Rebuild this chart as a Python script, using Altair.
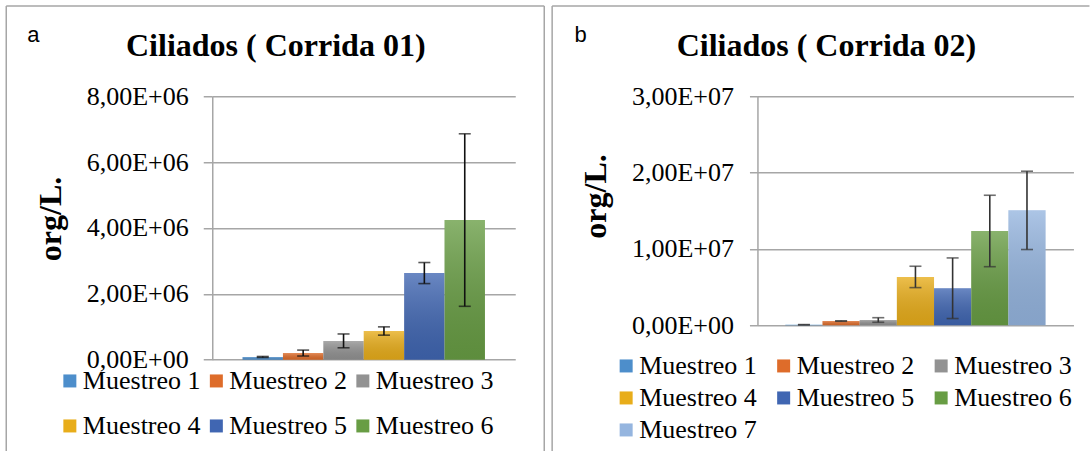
import altair as alt
import pandas as pd

# ---------------- data ----------------
series_a = ["Muestreo 1", "Muestreo 2", "Muestreo 3", "Muestreo 4", "Muestreo 5", "Muestreo 6"]
means_a = [8.2e4, 2.0e5, 5.7e5, 8.7e5, 2.63e6, 4.24e6]
errs_a = [1.5e4, 9.0e4, 2.1e5, 1.26e5, 3.2e5, 2.62e6]

series_b = ["Muestreo 1", "Muestreo 2", "Muestreo 3", "Muestreo 4", "Muestreo 5", "Muestreo 6", "Muestreo 7"]
means_b = [7.0e4, 5.5e5, 6.9e5, 6.33e6, 4.85e6, 1.235e7, 1.505e7]
errs_b = [2.0e4, 3.0e4, 3.0e5, 1.4e6, 3.97e6, 4.68e6, 5.13e6]

colors = ["#4d8ecb", "#de6c2a", "#929292", "#e8ad1a", "#4066b2", "#689d44", "#95b5df"]

titles = ["Ciliados ( Corrida 01)", "Ciliados ( Corrida 02)"]
letters = ["a", "b"]
y_title = "org/L."
ticks_a = [0, 2e6, 4e6, 6e6, 8e6]
ticks_b = [0, 1e7, 2e7, 3e7]

GRID = "#a6a6a6"
SERIF = "Liberation Serif"
LABEL_EXPR = "replace(replace(format(datum.value, '.2e'), '.', ','), 'e+', 'E+0')"


def panel(series, means, errs, ticks, g):
    df = pd.DataFrame({"serie": series, "valor": means, "err": errs})
    df["lo"] = df["valor"] - df["err"]
    df["hi"] = df["valor"] + df["err"]
    px, py = g["plot_x"], g["plot_y"]
    one = pd.DataFrame({"k": [0]})

    x = alt.X("serie:N", sort=series, axis=None,
              scale=alt.Scale(paddingInner=0, paddingOuter=0.75))
    y_scale = alt.Scale(domain=[0, ticks[-1]], nice=False)

    bars = alt.Chart(df).mark_bar().encode(
        x=x,
        y=alt.Y("valor:Q", scale=y_scale,
                axis=alt.Axis(values=ticks, labelExpr=LABEL_EXPR, labelFont=SERIF,
                              labelFontSize=26, labelColor="black", labelPadding=g["lpad"],
                              tickSize=g["tick"], tickColor=GRID, tickWidth=1.5,
                              domainColor=GRID, domainWidth=1.5, gridColor=GRID, gridWidth=1.5,
                              title=y_title, titleFont=SERIF, titleFontSize=32,
                              titleFontWeight="bold", titleColor="black",
                              titleX=g["yt_x"] - px, titleY=g["yt_y"] - py, titleAngle=270,
                              titleAlign="center", titleBaseline="middle")),
        color=alt.Color("serie:N", sort=series,
                        scale=alt.Scale(domain=series, range=colors[:len(series)]),
                        legend=alt.Legend(orient="none", legendX=g["leg_x"] - px,
                                          legendY=g["leg_y"] - 13 - py, columns=3,
                                          direction="horizontal", title=None,
                                          symbolType="square", symbolSize=169,
                                          symbolStrokeWidth=0, labelFont=SERIF,
                                          labelFontSize=26, labelColor="black",
                                          labelOffset=0, labelLimit=300, padding=0,
                                          columnPadding=g["colpad"], rowPadding=g["rowpad"])),
    )
    shade = alt.Chart(df).mark_bar(
        color=alt.Gradient(gradient="linear",
                           stops=[alt.GradientStop(color="rgba(255,255,255,0.22)", offset=0),
                                  alt.GradientStop(color="rgba(0,0,0,0.10)", offset=1)],
                           x1=0, x2=0, y1=0, y2=1)
    ).encode(x=x, y=alt.Y("valor:Q", scale=y_scale))

    rule = alt.Chart(df).mark_rule(color=g["ecol"], strokeWidth=1.6).encode(
        x=x, y=alt.Y("lo:Q", scale=y_scale), y2="hi:Q")
    cap_lo = alt.Chart(df).mark_tick(color=g["ecol"], size=12, thickness=1.6).encode(
        x=x, y=alt.Y("lo:Q", scale=y_scale))
    cap_hi = alt.Chart(df).mark_tick(color=g["ecol"], size=12, thickness=1.6).encode(
        x=x, y=alt.Y("hi:Q", scale=y_scale))

    border_layers = []
    for (x1, x2, y1, y2) in g["border"]:
        border_layers.append(alt.Chart(one).mark_rule(color=GRID, strokeWidth=1.5).encode(
            x=alt.value(x1 - px), x2=alt.value(x2 - px),
            y=alt.value(y1 - py), y2=alt.value(y2 - py)))

    title_txt = alt.Chart(one).mark_text(
        text=g["title"], font=SERIF, fontSize=32, fontWeight="bold", color="black",
        align="center", baseline="alphabetic").encode(
        x=alt.value(g["title_x"] - px), y=alt.value(g["title_y"] - py))
    letter_txt = alt.Chart(one).mark_text(
        text=g["letter"], font="Liberation Sans", fontSize=22, color="black",
        align="left", baseline="alphabetic").encode(
        x=alt.value(g["letter_x"] - px), y=alt.value(g["letter_y"] - py))

    return alt.layer(bars, shade, rule, cap_lo, cap_hi, *border_layers, title_txt, letter_txt).properties(
        width=g["w"], height=g["h"]).resolve_scale(color="independent")


geo_a = dict(plot_x=212, plot_y=95.3, w=303, h=263.4, lpad=15, tick=9,
             yt_x=50, yt_y=217.5, leg_x=56.6, leg_y=380, colpad=2.5, rowpad=19,
             ecol="#111111",
             border=[(6, 544, 5, 5), (6, 6, 5, 450), (544, 544, 5, 450)],
             title=titles[0], title_x=275.5, title_y=55, letter=letters[0],
             letter_x=27, letter_y=41)
geo_b = dict(plot_x=756, plot_y=95.3, w=316, h=229, lpad=16, tick=8,
             yt_x=594.5, yt_y=195, leg_x=611.7, leg_y=365, colpad=13.5, rowpad=6,
             ecol="#333333",
             border=[(550.7, 1088, 5, 5), (550.7, 550.7, 5, 450)],
             title=titles[1], title_x=825, title_y=55, letter=letters[1],
             letter_x=573, letter_y=41)

pa = panel(series_a, means_a, errs_a, ticks_a, geo_a)
pb = panel(series_b, means_b, errs_b, ticks_b, geo_b)

chart = alt.hconcat(pa, pb, spacing=5.2).resolve_scale(
    color="independent", y="independent", x="independent"
).resolve_legend(color="independent").properties(
    padding={"left": 5.25, "top": 4.25, "right": 0, "bottom": 0}
).configure_view(strokeWidth=0)

chart.save("out.html", embed_options={"renderer": "svg", "actions": False})
